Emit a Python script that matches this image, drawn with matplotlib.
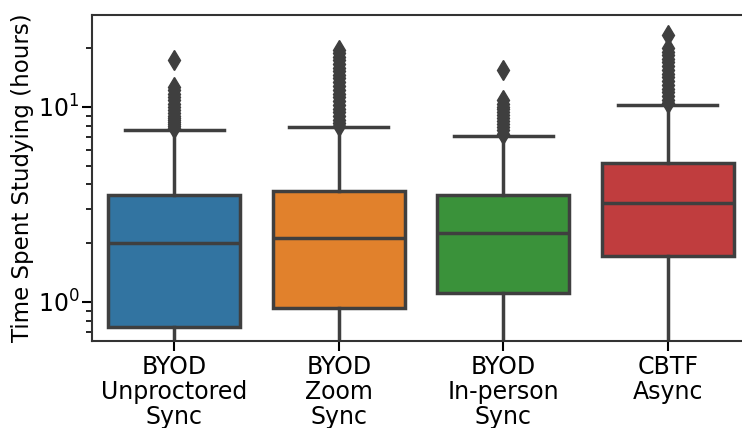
import numpy as np
import matplotlib
matplotlib.use('Agg')
import matplotlib.pyplot as plt

# Box statistics (hours, log scale)
labels = ['BYOD\nUnproctored\nSync', 'BYOD\nZoom\nSync', 'BYOD\nIn-person\nSync', 'CBTF\nAsync']
q1 = [0.744, 0.93, 1.11, 1.72]
medians = [2.01, 2.13, 2.26, 3.22]
q3 = [3.54, 3.71, 3.54, 5.16]
whis_lo = [0.25, 0.30, 0.30, 0.40]
whis_hi = [7.62, 7.9, 7.1, 10.24]
fliers_unproctored = [7.8, 8.0, 8.2, 8.4, 8.6, 8.8, 9.0, 9.3, 9.6, 10.0, 10.4, 10.8, 11.2, 11.7, 12.2, 12.6, 17.4]
fliers_zoom = [8.0, 8.3, 8.6, 9.0, 9.4, 9.8, 10.2, 10.7, 11.2, 11.7, 12.2, 12.8, 13.4, 14.0, 14.6,
               15.2, 15.9, 16.6, 17.3, 18.0, 18.8, 19.6]
fliers_inperson = [7.3, 7.6, 7.9, 8.2, 8.5, 8.8, 9.1, 9.4, 9.7, 10.0, 10.4, 10.8, 15.5]
fliers_cbtf = [10.5, 10.9, 11.4, 11.9, 12.4, 13.0, 13.6, 14.2, 14.8, 15.5, 16.2, 16.9, 17.6, 18.4,
               19.2, 20.0, 23.4]
fliers = [fliers_unproctored, fliers_zoom, fliers_inperson, fliers_cbtf]
colors = ['#3274a1', '#e1812c', '#3a923a', '#c03d3e']

stats = []
for i in range(len(labels)):
    stats.append(dict(med=medians[i], q1=q1[i], q3=q3[i], whislo=whis_lo[i],
                      whishi=whis_hi[i], fliers=fliers[i], label=labels[i]))

line_col = '#3f3f3f'
lw = 2.5
fig = plt.figure(figsize=(7.42, 4.28), dpi=100)
ax = fig.add_axes([92 / 742, 1 - 341 / 428, (750 - 92) / 742, (341 - 15) / 428])

bp = ax.bxp(stats, positions=range(len(labels)), widths=0.8, patch_artist=True,
            boxprops=dict(edgecolor=line_col, linewidth=lw),
            medianprops=dict(color=line_col, linewidth=lw),
            whiskerprops=dict(color=line_col, linewidth=lw),
            capprops=dict(color=line_col, linewidth=lw),
            flierprops=dict(marker='d', markersize=10, markerfacecolor=line_col,
                            markeredgecolor=line_col))
for patch, c in zip(bp['boxes'], colors):
    patch.set_facecolor(c)
for cap in bp['caps']:
    xd = cap.get_xdata()
    mid = (xd[0] + xd[1]) / 2
    cap.set_xdata([mid - 0.3, mid + 0.3])

ax.set_yscale('log')
ax.set_ylim(0.63, 29.6)
ax.set_xlim(-0.5, 3.5)
ax.set_ylabel('Time Spent Studying (hours)', fontsize=16.5)
ax.yaxis.set_label_coords(-0.088, 0.5)
ax.tick_params(axis='both', labelsize=17, width=1.5, length=7)
ax.tick_params(axis='y', pad=2)
ax.tick_params(axis='x', pad=3)
ax.tick_params(axis='y', which='minor', width=1.2, length=4)
for lab in ax.get_xticklabels():
    lab.set_linespacing(1.05)
for s in ax.spines.values():
    s.set_linewidth(1.5)
    s.set_color('#333333')
ax.spines['right'].set_visible(False)

fig.savefig('out.png', dpi=100)
